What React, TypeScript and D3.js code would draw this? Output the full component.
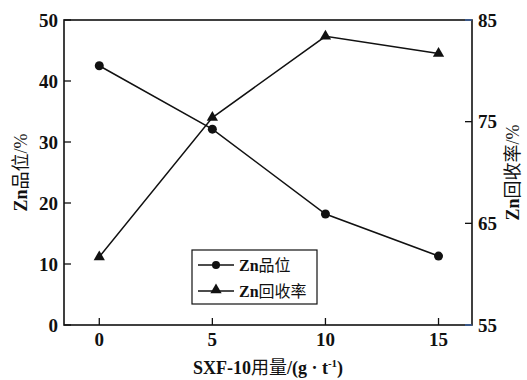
import React from 'react';
import * as d3 from 'd3';

const dosages = [0, 5, 10, 15];
const grade = [42.5, 32.1, 18.2, 11.3];
const recovery = [61.7, 75.4, 83.4, 81.7];
const leftTicks = [0, 10, 20, 30, 40, 50];
const rightTicks = [55, 65, 75, 85];
const xTicks = [0, 5, 10, 15];

const W = 527;
const H = 380;
const margin = { top: 20, right: 55, bottom: 55, left: 64 };
const font = '"Liberation Serif", "Times New Roman", "Noto Sans CJK SC", serif';

const App = () => {
  const x = d3.scaleLinear().domain([-1.56, 16.48]).range([margin.left, W - margin.right]);
  const yL = d3.scaleLinear().domain([0, 50]).range([H - margin.bottom, margin.top]);
  const yR = d3.scaleLinear().domain([55, 85]).range([H - margin.bottom, margin.top]);

  const x0 = margin.left;
  const x1 = W - margin.right;
  const y0 = H - margin.bottom;
  const y1 = margin.top;

  const gradeLine = d3.line<number>().x((_, i) => x(dosages[i])).y(d => yL(d))(grade) || '';
  const recLine = d3.line<number>().x((_, i) => x(dosages[i])).y(d => yR(d))(recovery) || '';
  const tri = d3.symbol().type(d3.symbolTriangle).size(55)() || '';

  return (
    <svg width={W} height={H} style={{ position: 'absolute', left: 0, top: 0, background: '#fff' }}>
      <g fontFamily={font} fontWeight="bold" fill="#111">
        {/* frame */}
        <rect x={x0} y={y1} width={x1 - x0} height={y0 - y1} fill="none" stroke="#111" strokeWidth={1.6} />

        {/* left ticks */}
        {leftTicks.map(t => (
          <g key={'l' + t}>
            <line x1={x0} x2={x0 + 7} y1={yL(t)} y2={yL(t)} stroke="#111" strokeWidth={1.3} />
            <text x={x0 - 6} y={yL(t)} dy="0.35em" textAnchor="end" fontSize={19}>{t}</text>
          </g>
        ))}
        {/* right ticks */}
        {rightTicks.map(t => (
          <g key={'r' + t}>
            <line x1={x1 - 7} x2={x1} y1={yR(t)} y2={yR(t)}
              stroke={t === 55 || t === 85 ? '#3a66b0' : '#111'} strokeWidth={1.3} />
            <text x={x1 + 6} y={yR(t)} dy="0.35em" textAnchor="start" fontSize={19}>{t}</text>
          </g>
        ))}
        {/* x ticks */}
        {xTicks.map(t => (
          <g key={'x' + t}>
            <line x1={x(t)} x2={x(t)} y1={y0} y2={y0 - 7} stroke="#111" strokeWidth={1.3} />
            <text x={x(t)} y={y0 + 21} textAnchor="middle" fontSize={19}>{t}</text>
          </g>
        ))}

        {/* series */}
        <path d={gradeLine} fill="none" stroke="#111" strokeWidth={1.5} />
        <path d={recLine} fill="none" stroke="#111" strokeWidth={1.5} />
        {grade.map((v, i) => (
          <circle key={'c' + i} cx={x(dosages[i])} cy={yL(v)} r={4.5} fill="#111" />
        ))}
        {recovery.map((v, i) => (
          <path key={'t' + i} d={tri} transform={`translate(${x(dosages[i])},${yR(v)})`} fill="#111" />
        ))}

        {/* legend */}
        <rect x={192} y={250} width={125} height={54} fill="#fff" stroke="#111" strokeWidth={1.2} />
        <line x1={198} x2={234} y1={265} y2={265} stroke="#111" strokeWidth={1.5} />
        <circle cx={216} cy={265} r={4} fill="#111" />
        <text x={239} y={265} dy="0.35em" fontSize={16}>Zn<tspan fontWeight="normal">品位</tspan></text>
        <line x1={198} x2={234} y1={291} y2={291} stroke="#111" strokeWidth={1.5} />
        <path d={tri} transform="translate(216,290)" fill="#111" />
        <text x={239} y={291} dy="0.35em" fontSize={16}>Zn<tspan fontWeight="normal">回收率</tspan></text>

        {/* axis titles */}
        <text x={268} y={374} textAnchor="middle" fontSize={18}>
          SXF-10<tspan fontWeight="normal">用量</tspan>/(g · t<tspan fontSize={11} dy={-7}>-1</tspan><tspan dy={7}>)</tspan>
        </text>
        <text transform={`translate(27,${(y0 + y1) / 2}) rotate(-90)`} textAnchor="middle" fontSize={18}>
          Zn<tspan fontWeight="normal">品位/%</tspan>
        </text>
        <text transform={`translate(519,${(y0 + y1) / 2}) rotate(-90)`} textAnchor="middle" fontSize={18}>
          Zn<tspan fontWeight="normal">回收率/%</tspan>
        </text>
      </g>
    </svg>
  );
};

export default App;
